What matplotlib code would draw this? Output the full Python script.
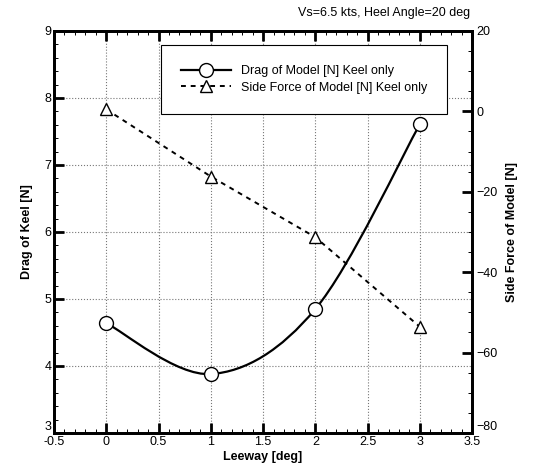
import numpy as np
import matplotlib.pyplot as plt
from matplotlib.path import Path
from matplotlib.patches import PathPatch
from matplotlib.lines import Line2D
from matplotlib.ticker import MultipleLocator

plt.rcParams['font.family'] = ['Liberation Sans', 'DejaVu Sans']

leeway = [0, 1, 2, 3]
drag = [4.64, 3.88, 4.85, 7.61]
side_force = [0.5, -16.2, -31.3, -53.6]


def smooth_path(xs, ys):
    # Catmull-Rom style bezier segments through the measured points
    xs = np.asarray(xs, float)
    ys = np.asarray(ys, float)
    n = len(xs)
    verts = [(xs[0], ys[0])]
    codes = [Path.MOVETO]
    for i in range(n - 1):
        i0 = max(i - 1, 0)
        i3 = min(i + 2, n - 1)
        c1 = (xs[i] + (xs[i + 1] - xs[i0]) / 6, ys[i] + (ys[i + 1] - ys[i0]) / 6)
        c2 = (xs[i + 1] - (xs[i3] - xs[i]) / 6, ys[i + 1] - (ys[i3] - ys[i]) / 6)
        verts += [c1, c2, (xs[i + 1], ys[i + 1])]
        codes += [Path.CURVE4] * 3
    return Path(verts, codes)


fig = plt.figure(figsize=(5.47, 4.68), dpi=100)
ax = fig.add_axes([0.0987, 0.0748, 0.7645, 0.859])
ax2 = ax.twinx()

ax.add_patch(PathPatch(smooth_path(leeway, drag), fill=False, color='black', lw=1.6, zorder=3))
ax.plot(leeway, drag, 'o', ms=10, mfc='white', mec='black', mew=1.0, zorder=4)

ax2.plot(leeway, side_force, '--', color='black', lw=1.4, dashes=(2.5, 2.5),
         marker='^', ms=8, mfc='white', mec='black', mew=1.0)

ax.set_xlim(-0.5, 3.5)
ax.set_ylim(3, 9)
ax2.set_ylim(-80, 20)

ax.xaxis.set_minor_locator(MultipleLocator(0.1))
ax.yaxis.set_minor_locator(MultipleLocator(0.2))
ax2.yaxis.set_minor_locator(MultipleLocator(5))

ax.set_xticks(np.arange(-0.5, 3.51, 0.5))
ax.set_xticklabels(['-0.5', '0', '0.5', '1', '1.5', '2', '2.5', '3', '3.5'])
ax.set_yticks(np.arange(3, 9.1, 1))
ax2.set_yticks(np.arange(-80, 21, 20))

ax.grid(True, which='major', color='#777777', ls=':', lw=0.8)
ax.set_axisbelow(True)

ax.tick_params(which='both', direction='in', top=True, right=False, labelsize=9, pad=2)
ax.tick_params(which='major', length=7, width=2)
ax.tick_params(which='minor', length=3, width=0.7)
ax2.tick_params(which='both', direction='in', labelsize=9, pad=3)
ax2.tick_params(which='major', length=7, width=2)
ax2.tick_params(which='minor', length=3, width=0.7)

# lowest y labels sit just above the corner, as in the original
ax.yaxis.get_major_ticks()[0].label1.set_va('bottom')
ax2.yaxis.get_major_ticks()[0].label2.set_va('bottom')

for a in (ax, ax2):
    for s in a.spines.values():
        s.set_linewidth(2)

ax.set_xlabel('Leeway [deg]', fontweight='bold', fontsize=9, labelpad=2)
ax.set_ylabel('Drag of Keel [N]', fontweight='bold', fontsize=9, labelpad=8)
ax2.set_ylabel('Side Force of Model [N]', fontweight='bold', fontsize=9, labelpad=6)

fig.text(0.86, 0.985, 'Vs=6.5 kts, Heel Angle=20 deg', ha='right', va='top', fontsize=9)

handles = [
    Line2D([], [], color='black', lw=1.6, marker='o', ms=10, mfc='white', mec='black'),
    Line2D([], [], color='black', lw=1.4, ls='--', dashes=(2.5, 2.5), marker='^', ms=8,
           mfc='white', mec='black'),
]
leg = ax2.legend(handles, ['Drag of Model [N] Keel only', 'Side Force of Model [N] Keel only'],
                 loc='upper left', bbox_to_anchor=(0.24, 0.98), numpoints=1,
                 handlelength=4.0, fontsize=9, fancybox=False, framealpha=1,
                 edgecolor='black', borderpad=1.6, labelspacing=0.35, handletextpad=0.8)
leg.get_frame().set_linewidth(0.8)

fig.savefig('out.png', dpi=100)
